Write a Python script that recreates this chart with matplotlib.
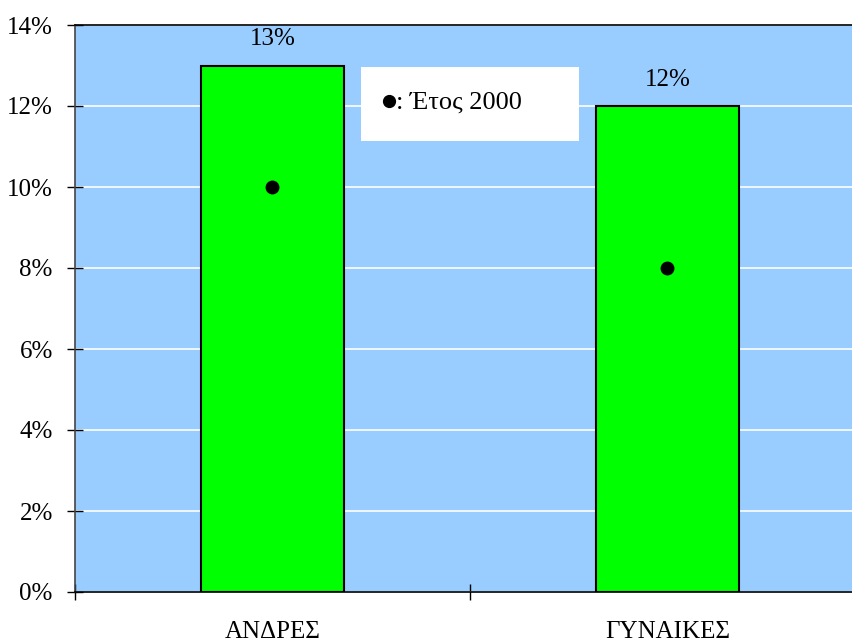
import matplotlib
matplotlib.use("Agg")
import matplotlib.pyplot as plt
from matplotlib.patches import Rectangle
from matplotlib.lines import Line2D
from matplotlib.ticker import FixedLocator, PercentFormatter

categories = ["ΑΝΔΡΕΣ", "ΓΥΝΑΙΚΕΣ"]
values_now = [13, 12]
values_2000 = [10, 8]
bar_labels = ["13%", "12%"]
y_ticks = [0, 2, 4, 6, 8, 10, 12, 14]
legend_text = ": Έτος 2000"

plt.rcParams['font.family'] = ['Liberation Serif', 'DejaVu Sans']

W, H = 853, 642
fig = plt.figure(figsize=(W / 100, H / 100), dpi=100)
ax = fig.add_axes([75 / W, 50 / H, 790 / W, 567 / H])
ax.set_facecolor("#99CCFF")

x = list(range(len(categories)))
ax.bar(x, values_now, width=0.36, color="#00FF00", edgecolor="black", linewidth=1.5, zorder=3)
ax.plot(x, values_2000, linestyle="none", marker="o", markersize=9, color="black", zorder=4)

for xi, v, lab in zip(x, values_now, bar_labels):
    ax.annotate(lab, (xi, v), xytext=(0, 19), textcoords="offset points",
                ha="center", va="center", fontsize=18)

ax.set_xlim(-0.5, len(categories) - 0.5)
ax.set_ylim(0, 14)
ax.yaxis.set_major_locator(FixedLocator(y_ticks))
ax.yaxis.set_major_formatter(PercentFormatter(decimals=0))
ax.grid(axis="y", color="white", linewidth=1.2, zorder=1)
ax.set_axisbelow(True)

ax.set_xticks(x)
ax.set_xticklabels(categories)
ax.tick_params(axis="x", which="major", length=0, pad=21, labelsize=18)
ax.xaxis.set_minor_locator(FixedLocator([-0.5 + i for i in range(len(categories) + 1)]))
ax.tick_params(axis="x", which="minor", direction="inout", length=12, width=1)
ax.tick_params(axis="y", direction="inout", length=12, width=1, labelsize=18, pad=10)

for s in ["top", "bottom"]:
    ax.spines[s].set_color("black")
    ax.spines[s].set_linewidth(1.2)
ax.spines["left"].set_color("#444444")
ax.spines["left"].set_linewidth(1.2)
ax.spines["right"].set_visible(False)

fig.patches.append(Rectangle((361 / W, (H - 141) / H), 218 / W, 74 / H,
                             transform=fig.transFigure, facecolor="white",
                             edgecolor="none", zorder=5))
fig.add_artist(Line2D([389 / W], [(H - 101) / H], marker="o", markersize=8.5,
                      color="black", linestyle="none", transform=fig.transFigure, zorder=6))
fig.text(396 / W, (H - 103) / H, legend_text, ha="left", va="center", fontsize=19, zorder=6)

fig.savefig("out.png", dpi=100)
